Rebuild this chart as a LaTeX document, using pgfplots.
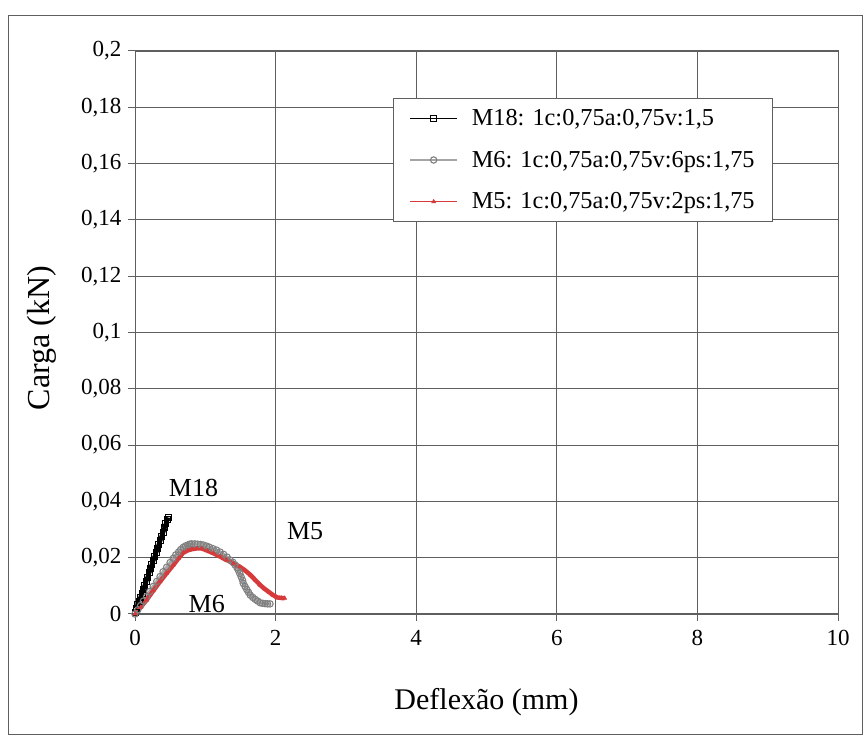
\documentclass[border=0pt]{standalone}
\usepackage{fontspec}
\setmainfont{Liberation Serif}
\usepackage{pgfplots}
\pgfplotsset{compat=1.18}
\definecolor{mred}{RGB}{214,58,58}
\definecolor{mgray}{RGB}{165,165,165}
\definecolor{gridc}{RGB}{95,95,95}
\begin{document}
\begin{tikzpicture}
\path[use as bounding box] (0,0) rectangle (867pt,738pt);
\draw[gridc, line width=1pt] (8pt,3pt) rectangle (862pt,722pt);
\begin{axis}[
 at={(135pt,124pt)}, anchor=south west,
 width=703pt, height=563pt, scale only axis,
 xmin=0, xmax=10, ymin=0, ymax=0.2,
 xtick={0,2,4,6,8,10},
 ytick={0,0.02,0.04,0.06,0.08,0.1,0.12,0.14,0.16,0.18,0.2},
 /pgf/number format/assume math mode=true,
 /pgf/number format/use comma,
 /pgf/number format/fixed,
 /pgf/number format/precision=2,
 scaled ticks=false,
 tick align=outside, xtick pos=bottom, ytick pos=left,
 major tick length=7pt,
 tick style={gridc, line width=1pt},
 axis line style={gridc, line width=1pt},
 grid=major, major grid style={gridc, line width=0.9pt},
 ticklabel style={font=\fontsize{23}{26}\selectfont},
 xticklabel style={yshift=-6pt},
 yticklabel style={xshift=-3pt},
 xlabel={Deflexão (mm)}, ylabel={Carga (kN)},
 every axis x label/.style={at={(axis description cs:0.5,-0.156)}, anchor=center, font=\fontsize{30}{34}\selectfont},
 every axis y label/.style={at={(axis description cs:-0.132,0.49)}, anchor=center, rotate=90, font=\fontsize{32}{36}\selectfont},
 legend style={at={(axis description cs:0.367,0.9165)}, anchor=north west, draw=gridc, line width=1pt, font=\fontsize{24.3}{27}\selectfont, row sep=20pt, inner xsep=16pt, inner ysep=9pt, fill=white,
   /tikz/every odd column/.append style={column sep=12pt}},
 legend cell align=left,
 legend image code/.code={\draw[mark repeat=2,mark phase=2,#1,line width=1.3pt] plot coordinates {(0pt,0pt)(23.5pt,0pt)(47pt,0pt)};},
]
\addplot[black, line width=4.5pt, mark=square, mark size=3pt, mark options={solid, line width=1pt}] coordinates {
(0,0.0005)(0.02,0.0018)(0.04,0.0032)(0.06,0.0046)(0.08,0.006)(0.10,0.0074)(0.12,0.0088)(0.14,0.0102)(0.16,0.0117)(0.18,0.0131)(0.20,0.0146)(0.22,0.016)(0.24,0.0175)(0.26,0.019)(0.28,0.0204)(0.30,0.0219)(0.32,0.0233)(0.34,0.0248)(0.36,0.0262)(0.38,0.0277)(0.40,0.0291)(0.42,0.0306)(0.44,0.032)(0.46,0.0335)(0.47,0.0343)
};
\addlegendentry{M18: 1c:0,75a:0,75v:1,5}
\addplot[mgray, line width=3pt, mark=o, mark size=3.2pt, mark options={solid, line width=1.1pt, draw=gray}] coordinates {
(0,0)(0.04,0.0015)(0.08,0.003)(0.12,0.0046)(0.166,0.0062)(0.21,0.008)(0.26,0.0098)(0.31,0.0116)(0.356,0.0133)(0.40,0.015)(0.45,0.0166)(0.50,0.0183)(0.545,0.0198)(0.58,0.0210)(0.62,0.0220)(0.65,0.0229)(0.687,0.0237)(0.72,0.0242)(0.75,0.0245)(0.78,0.0248)(0.806,0.0249)(0.85,0.0249)(0.89,0.0248)(0.93,0.0247)(0.972,0.0245)(1.02,0.0241)(1.06,0.0237)(1.11,0.0232)(1.16,0.0227)(1.21,0.0220)(1.26,0.0212)(1.31,0.0202)(1.35,0.0192)(1.39,0.0184)(1.42,0.0175)(1.45,0.0165)(1.47,0.0156)(1.49,0.0144)(1.51,0.0132)(1.53,0.0120)(1.54,0.0109)(1.565,0.0098)(1.59,0.0087)(1.615,0.0077)(1.64,0.0067)(1.675,0.0059)(1.71,0.0052)(1.745,0.0046)(1.78,0.0040)(1.815,0.0038)(1.85,0.0037)(1.885,0.0036)(1.92,0.0036)
};
\addlegendentry{M6: 1c:0,75a:0,75v:6ps:1,75}
\addplot[mred, line width=4.5pt, mark=triangle*, mark size=2.2pt, mark options={solid, line width=0.6pt}] coordinates {
(0,0)(0.08,0.0024)(0.166,0.005)(0.26,0.0083)(0.356,0.0115)(0.45,0.0145)(0.545,0.0174)(0.62,0.0198)(0.687,0.0218)(0.75,0.0226)(0.806,0.0230)(0.88,0.0233)(0.948,0.0233)(1.03,0.0225)(1.114,0.0216)(1.21,0.0204)(1.30,0.0192)(1.40,0.0180)(1.49,0.0168)(1.57,0.0154)(1.64,0.0139)(1.71,0.0121)(1.78,0.0103)(1.84,0.0090)(1.90,0.0079)(1.96,0.0068)(2.02,0.0059)(2.08,0.0057)(2.13,0.0056)
};
\addlegendentry{M5: 1c:0,75a:0,75v:2ps:1,75}
\node[font=\fontsize{26}{30}\selectfont] at (axis cs:0.832,0.0449) {M18};
\node[font=\fontsize{26}{30}\selectfont] at (axis cs:2.42,0.0295) {M5};
\node[font=\fontsize{26}{30}\selectfont] at (axis cs:1.02,0.0037) {M6};
\end{axis}
\end{tikzpicture}
\end{document}
